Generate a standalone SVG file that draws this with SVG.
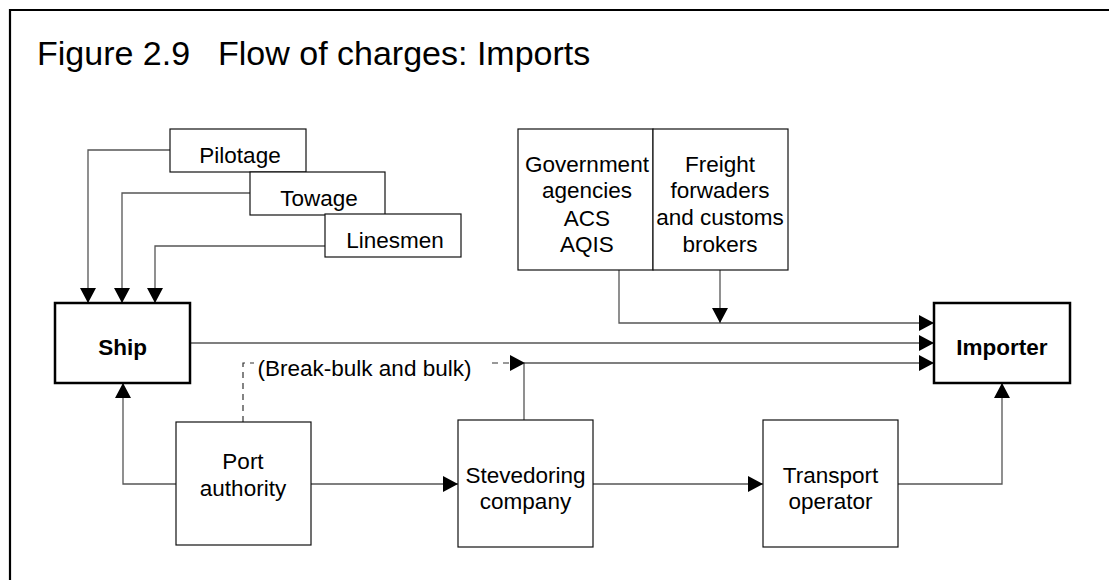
<svg xmlns="http://www.w3.org/2000/svg" width="1109" height="580" viewBox="0 0 1109 580">
<style>
text{font-family:"Liberation Sans",Arial,sans-serif;font-size:22.5px;fill:#000;text-anchor:middle}
.title{font-size:34px;text-anchor:start}
.bold{font-weight:bold}
.box{fill:#fff;stroke:#111;stroke-width:1.2}
.bbox{fill:#fff;stroke:#000;stroke-width:2.5}
.c{fill:none;stroke:#555;stroke-width:1.3}
.d{fill:none;stroke:#333;stroke-width:1.2;stroke-dasharray:6 5}
.frame{fill:none;stroke:#000;stroke-width:2.2}
</style>
<defs>
<marker id="ah" viewBox="0 0 15 16" refX="15" refY="8" markerWidth="15" markerHeight="16" markerUnits="userSpaceOnUse" orient="auto">
<path d="M0,0 L15,8 L0,16 z" fill="#000"/>
</marker>
</defs>
<rect width="1109" height="580" fill="#fff"/>
<path class="frame" d="M1109,10 H10 V580"/>
<g id="title">
<text class="title" x="37" y="65">Figure 2.9</text>
<text class="title" x="218" y="65">Flow of charges: Imports</text>
</g>

<g id="connectors">
<path class="c" d="M170,150 H88 V303" marker-end="url(#ah)"/>
<path class="c" d="M250,193 H122 V303" marker-end="url(#ah)"/>
<path class="c" d="M325,246 H155 V303" marker-end="url(#ah)"/>
<path class="c" d="M619,270 V323 H934" marker-end="url(#ah)"/>
<path class="c" d="M720,270 V323" marker-end="url(#ah)"/>
<path class="c" d="M190,343 H934" marker-end="url(#ah)"/>
<path class="c" d="M524,420 V363 H934" marker-end="url(#ah)"/>
<path class="d" d="M243,422 V363 H525" marker-end="url(#ah)"/>
<rect x="254" y="352" width="238" height="28" fill="#fff"/>
<text x="364.5" y="376">(Break-bulk and bulk)</text>
<path class="c" d="M176,484 H123 V383" marker-end="url(#ah)"/>
<path class="c" d="M311,484 H458" marker-end="url(#ah)"/>
<path class="c" d="M593,484 H763" marker-end="url(#ah)"/>
<path class="c" d="M898,484 H1002 V383" marker-end="url(#ah)"/>
</g>

<g id="pilotage">
<rect class="box" x="170" y="129" width="136" height="43"/>
<text x="240" y="163">Pilotage</text>
</g>
<g id="towage">
<rect class="box" x="250" y="172" width="135" height="43"/>
<text x="319" y="206">Towage</text>
</g>
<g id="linesmen">
<rect class="box" x="325" y="214" width="136" height="43"/>
<text x="395" y="248">Linesmen</text>
</g>
<g id="government">
<rect class="box" x="518" y="129" width="135" height="141"/>
<text x="587" y="172">Government</text>
<text x="587" y="198">agencies</text>
<text x="587" y="226">ACS</text>
<text x="587" y="252">AQIS</text>
</g>
<g id="freight">
<rect class="box" x="653" y="129" width="135" height="141"/>
<text x="720" y="172">Freight</text>
<text x="720" y="198">forwaders</text>
<text x="720" y="225">and customs</text>
<text x="720" y="252">brokers</text>
</g>
<g id="ship">
<rect class="bbox" x="55" y="303" width="135" height="80"/>
<text class="bold" x="122.5" y="355">Ship</text>
</g>
<g id="importer">
<rect class="bbox" x="934" y="303" width="136" height="80"/>
<text class="bold" x="1002" y="355">Importer</text>
</g>
<g id="port-authority">
<rect class="box" x="176" y="422" width="135" height="123"/>
<text x="243" y="469">Port</text>
<text x="243" y="496">authority</text>
</g>
<g id="stevedoring">
<rect class="box" x="458" y="420" width="135" height="127"/>
<text x="525.5" y="483">Stevedoring</text>
<text x="525.5" y="509">company</text>
</g>
<g id="transport">
<rect class="box" x="763" y="420" width="135" height="127"/>
<text x="830.5" y="483">Transport</text>
<text x="830.5" y="509">operator</text>
</g>
</svg>
